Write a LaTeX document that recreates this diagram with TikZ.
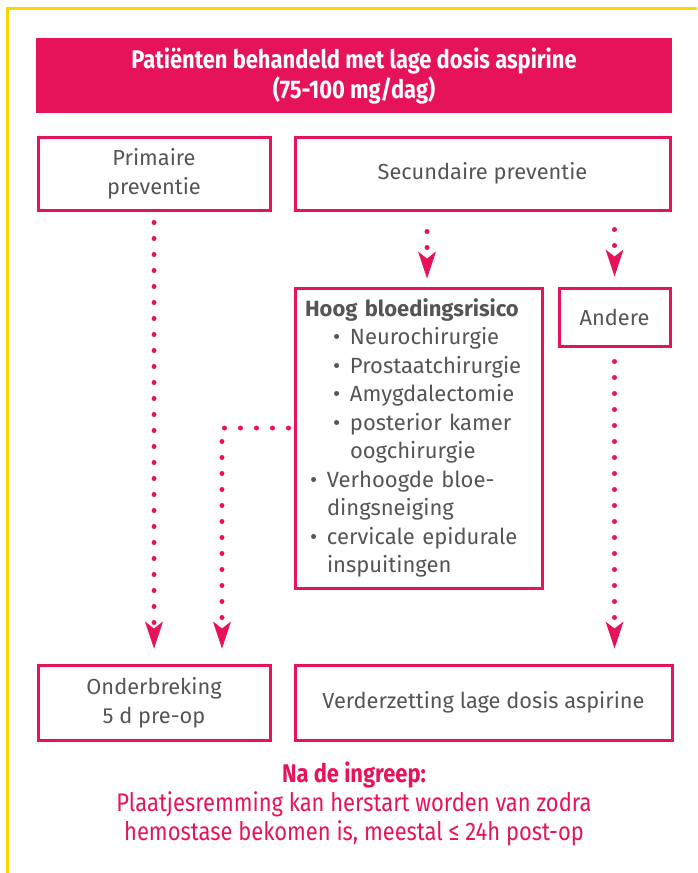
\documentclass[tikz,border=0pt]{standalone}
\usepackage{fontspec}
\setmainfont{Fira Sans}
\newfontfamily\condfont[FakeStretch=0.86]{Fira Sans}
\usetikzlibrary{arrows.meta}
\definecolor{rood}{HTML}{E6135B}
\definecolor{geel}{HTML}{FFD500}
\definecolor{tekst}{HTML}{555555}
\newcommand{\itm}[1]{\hspace*{5pt}\makebox[17pt][l]{\textbullet}#1}
\newcommand{\itmc}[1]{\hspace*{22pt}#1}
\newcommand{\sub}[1]{\hspace*{28pt}\makebox[17pt][l]{\textbullet}#1}
\newcommand{\subc}[1]{\hspace*{45pt}#1}
\tikzset{
  kop/.style  ={fill=rood, text=white, font=\condfont\bfseries\fontsize{25.5}{30}\selectfont, align=center, inner sep=0pt},
  box/.style  ={draw=rood, line width=3pt, fill=white, text=tekst, align=center, inner sep=0pt, font=\fontsize{21.8}{29}\selectfont},
  lijst/.style={box, align=left, text width=227pt, font=\fontsize{22}{28.5}\selectfont},
  dotpijl/.style={draw=rood, line width=5pt, line cap=round, dash pattern=on 0pt off 16pt,
    -{Stealth[length=27pt,width=18pt,inset=7pt,line width=0pt]}},
  noot/.style ={text=rood, font=\condfont\fontsize{25.5}{28.8}\selectfont, align=center},
}
\begin{document}
\begin{tikzpicture}[x=1pt,y=-1pt]
  \useasboundingbox (0,0) rectangle (697,873);
  \draw[geel, line width=3pt] (7,873) -- (7,8) -- (697,8);
  \node[kop, minimum width=636pt, minimum height=75pt] (titel) at (354,75.5)
    {Patiënten behandeld met lage dosis aspirine\\(75-100 mg/dag)};
  \node[box, minimum width=232pt, minimum height=73pt] (prim) at (154,173.5) {Primaire\\preventie};
  \node[box, minimum width=375pt, minimum height=73pt] (sec) at (482.5,173.5) {Secundaire preventie};
  \node[lijst, minimum width=247pt, minimum height=300pt] (hoog) at (418.5,438)
    {\textbf{Hoog bloedingsrisico}\\
     \sub{Neurochirurgie}\\
     \sub{Prostaatchirurgie}\\
     \sub{Amygdalectomie}\\
     \sub{posterior kamer}\\
     \subc{oogchirurgie}\\
     \itm{Verhoogde bloe-}\\
     \itmc{dingsneiging}\\
     \itm{cervicale epidurale}\\
     \itmc{inspuitingen}};
  \node[box, minimum width=111pt, minimum height=58pt] (andere) at (614.5,317) {Andere};
  \node[box, minimum width=232pt, minimum height=75pt] (onder) at (154,702.5) {Onderbreking\\5 d pre-op};
  \node[box, minimum width=377pt, minimum height=75pt] (verder) at (483.5,702.5) {Verderzetting lage dosis aspirine};
  \node[noot] (na) at (354,804) {\bfseries Na de ingreep:\\
    Plaatjesremming kan herstart worden van zodra\\
    hemostase bekomen is, meestal ≤ 24h post-op};
  % pijlen
  \draw[dotpijl, shorten <=11pt, shorten >=15pt] (prim.south) -- (onder.north);
  \draw[dotpijl, shorten <=20pt, shorten >=8pt] ([xshift=8.5pt]hoog.north |- sec.south) -- ([xshift=8.5pt]hoog.north);
  \draw[dotpijl, shorten <=18pt, shorten >=10pt] (andere.north |- sec.south) -- (andere.north);
  \draw[dotpijl, shorten <=14pt, shorten >=15pt] (andere.south) -- (andere.south |- verder.north);
  \draw[dotpijl, shorten <=5pt, shorten >=15pt] ([yshift=10pt]hoog.west) -| ([xshift=68pt]onder.north);
\end{tikzpicture}
\end{document}
